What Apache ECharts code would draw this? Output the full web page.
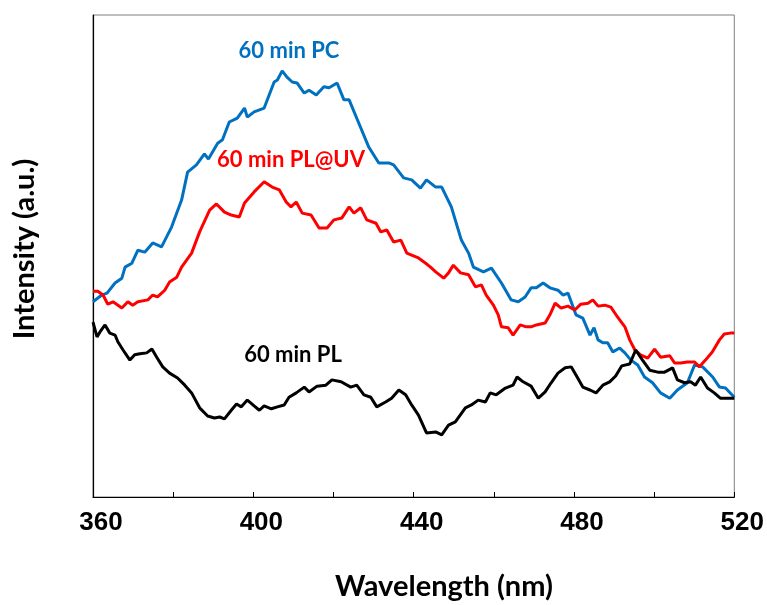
<!DOCTYPE html>
<html>
<head>
<meta charset="utf-8">
<script src="https://cdn.jsdelivr.net/npm/echarts@6/dist/echarts.min.js"></script>
<style>
html,body{margin:0;padding:0;background:#fff;}
#main{width:767px;height:605px;}
</style>
</head>
<body>
<div id="main"></div>
<script>
// ---- data (wavelength in nm, intensity in arbitrary units 0-100) ----
var xTicks = [360, 400, 440, 480, 520];

var pcWavelength = [360,362.2,363.5,365.5,367.2,368,369.7,371.2,372.9,374.9,377.1,379.6,382.1,383.6,385.8,387.8,388.8,391.1,392.3,394,396,397.8,398.5,400.2,402.7,405.2,406,407.2,408.4,409.7,410.9,412.7,413.9,415.7,417.6,418.9,420.9,422.6,423.9,426.3,428.8,431.3,433.8,435,437.5,439.5,441.7,443.2,445.5,447,449.4,451.9,453.7,454.9,457.4,459.4,461.9,464.3,466.1,467.8,469.3,470.6,472.3,474,476,477.3,478.5,479.3,480.5,482.2,484,485,486,487.2,488.4,489.7,491.4,492.7,494.2,495.9,497.6,499.6,501.6,503.9,505.8,508.3,510.1,512.1,514.6,516.3,517.8,520];
var pcIntensity = [40.5,41.9,42.3,44.4,45.4,47.7,48.5,51.2,50.8,52.7,51.9,56.0,61.6,67.4,68.9,71.2,70.1,73.4,74.1,77.8,78.6,80.7,78.8,79.9,80.7,86.1,86.5,88.4,87.1,86.1,85.9,83.8,84.4,83.4,85.1,84.9,85.9,82.4,82.4,77.6,72.6,69.3,69.3,68.9,66.2,65.8,64.1,65.8,64.3,64.3,60.2,53.3,50.6,47.7,46.7,47.5,44.4,40.9,40.5,41.5,43.4,43.4,44.4,43.4,42.9,41.9,42.3,40.5,37.8,37.1,33.6,35.1,32.6,32.0,32.0,30.1,30.9,29.9,28.4,27.4,24.9,23.7,21.6,20.5,22.2,23.7,27.4,27.0,24.9,22.8,22.6,20.7];

var uvWavelength = [360,361.2,362.5,363.7,365,367.2,368.7,369.9,371.2,373.7,374.9,376.1,377.9,379.1,380.9,382.1,384.6,386.6,389.1,390.8,392.8,394.5,396.5,397.8,400.2,402.7,404.7,406.5,408.2,409.4,410.7,412.2,414.4,416.4,418.4,420.1,422.1,423.9,425.1,426.8,428.3,430.6,431.8,433.3,435,436.8,438.3,439.5,441.2,443,444.2,445.5,447.5,448.7,449.9,451.7,453.7,455.4,456.9,458.1,459.9,461.1,461.9,463.6,464.8,466.6,468.1,469.3,470.6,472.8,474,475.3,476.8,478.5,480.2,481.7,483.5,484.7,486,487.7,489.2,490.9,492.7,493.9,495.2,496.6,498.4,500.1,501.6,503.9,505.1,506.6,508.3,510.1,511.3,512.8,514.5,516.3,517.5,519,520];
var uvIntensity = [42.7,42.7,41.9,40.0,40.5,39.2,40.5,39.8,40.5,40.9,41.9,41.5,42.9,44.6,45.6,47.7,50.6,55.0,59.5,60.8,59.1,58.5,58.1,61.0,63.3,65.4,64.3,63.7,61.2,60.2,61.2,58.9,58.5,55.8,55.8,57.5,57.9,60.2,58.9,60.0,57.5,56.8,55.0,55.4,52.9,53.3,50.6,50.2,49.6,48.5,47.7,46.7,45.4,46.5,48.1,46.5,46.1,43.6,44.0,41.9,39.8,37.8,35.3,35.1,33.6,35.7,35.3,35.3,35.7,36.1,37.8,40.2,39.2,39.6,38.8,40.0,40.2,40.9,39.6,39.8,39.4,37.3,35.3,32.6,30.5,29.5,28.8,30.7,29.0,29.3,27.8,27.8,28.0,28.0,27.0,28.4,30.1,32.6,33.8,34.0,34.0];

var plWavelength = [360,361,361.7,363,364.2,365.5,366.2,367.5,369.2,370.4,371.7,373.4,374.7,375.9,377.4,379.1,381.1,382.9,384.6,386.6,388.6,390.3,391.6,392.8,394.5,395.8,397,398.5,400.2,401.5,402.7,404.5,406,407.7,408.9,410.7,412.7,413.9,415.9,418.1,419.6,421.9,424.3,425.8,427.6,429.3,430.8,433,434.5,436.3,438,439.5,441.2,443.2,445.5,447,448.7,450.4,452.9,454.4,456.1,457.9,459.1,460.6,462.9,464.8,465.8,467.3,469.3,471.1,472.8,474.3,476,477.8,479.3,480.5,482.2,484,485.5,487.2,488.9,490.4,491.9,493.9,495.4,497.1,498.9,500.9,502.6,504.6,505.8,507.6,509.1,510.3,511.6,513.3,515,516.5,518.2,520];
var plIntensity = [36.3,33.2,34.2,35.7,34.0,33.6,32.2,30.5,28.4,29.5,29.7,29.9,30.7,29.0,27.0,25.7,24.7,23.2,21.6,18.5,16.8,16.4,16.6,16.2,18.0,19.3,18.7,20.1,18.9,18.0,18.9,18.3,18.7,19.1,20.7,21.6,22.8,21.8,23.0,23.2,24.3,23.9,22.8,23.2,21.2,20.7,18.7,19.7,20.5,22.2,21.2,19.1,17.0,13.3,13.5,12.9,14.9,15.6,18.5,19.1,20.1,19.7,21.6,21.2,22.6,23.2,24.9,23.9,23.0,20.5,21.8,23.7,25.7,26.8,27.0,25.3,22.8,22.2,21.6,23.2,23.9,25.1,27.2,27.6,30.5,28.4,26.3,25.9,25.9,26.8,24.3,23.7,23.9,23.2,24.9,22.6,21.6,20.5,20.5,20.5];

var seriesNames = ['60 min PC', '60 min PL@UV', '60 min PL'];
var xTitle = 'Wavelength (nm)';
var yTitle = 'Intensity (a.u.)';

function zip(a, b) { return a.map(function (v, i) { return [v, b[i]]; }); }

var chart = echarts.init(document.getElementById('main'), null, {renderer: 'canvas'});
var calibri = 'Lato, "Open Sans", sans-serif';
var option = {
  animation: false,
  backgroundColor: '#ffffff',
  grid: {left: 93, right: 30, top: 15, bottom: 108, show: true, borderColor: '#7f7f7f', borderWidth: 1},
  xAxis: {
    type: 'value', min: 360, max: 520, interval: 20,
    axisLine: {show: true, onZero: false, lineStyle: {color: '#000', width: 1.2}},
    axisTick: {show: true, inside: true, length: 5, lineStyle: {color: '#000', width: 1}},
    splitLine: {show: false},
    axisLabel: {
      margin: 13,
      formatter: function (v) { return xTicks.indexOf(v) >= 0 ? '{a|' + v + '}' : ''; },
      rich: {a: {fontFamily: '"Liberation Sans Narrow", "Arial Narrow", sans-serif', fontWeight: 'bold', fontSize: 26, color: '#000', padding: [0, 0, 0, 16]}}
    }
  },
  yAxis: {
    type: 'value', min: 0, max: 100,
    axisLine: {show: true, lineStyle: {color: '#000', width: 1.2}},
    axisTick: {show: false}, axisLabel: {show: false}, splitLine: {show: false}
  },
  series: [
    {name: seriesNames[0], type: 'line', data: zip(pcWavelength, pcIntensity), showSymbol: false, lineStyle: {color: '#0070C0', width: 3}, itemStyle: {color: '#0070C0'}},
    {name: seriesNames[1], type: 'line', data: zip(uvWavelength, uvIntensity), showSymbol: false, lineStyle: {color: '#FF0000', width: 3}, itemStyle: {color: '#FF0000'}},
    {name: seriesNames[2], type: 'line', data: zip(plWavelength, plIntensity), showSymbol: false, lineStyle: {color: '#000000', width: 3}, itemStyle: {color: '#000000'}}
  ],
  graphic: [
    {type: 'text', x: 289, y: 51, style: {text: seriesNames[0], fill: '#0070C0', font: 'bold 22px ' + calibri, align: 'center', verticalAlign: 'middle'}},
    {type: 'text', x: 291, y: 160, style: {text: seriesNames[1], fill: '#FF0000', font: 'bold 22px ' + calibri, align: 'center', verticalAlign: 'middle'}},
    {type: 'text', x: 293, y: 355, style: {text: seriesNames[2], fill: '#000000', font: 'bold 22px ' + calibri, align: 'center', verticalAlign: 'middle'}},
    {type: 'text', x: 444, y: 587, style: {text: xTitle, fill: '#000', font: 'bold 29px ' + calibri, align: 'center', verticalAlign: 'middle'}},
    {type: 'text', x: 25, y: 249, rotation: Math.PI / 2, style: {text: yTitle, fill: '#000', font: 'bold 29px ' + calibri, align: 'center', verticalAlign: 'middle'}}
  ]
};
chart.setOption(option);
</script>
</body>
</html>
